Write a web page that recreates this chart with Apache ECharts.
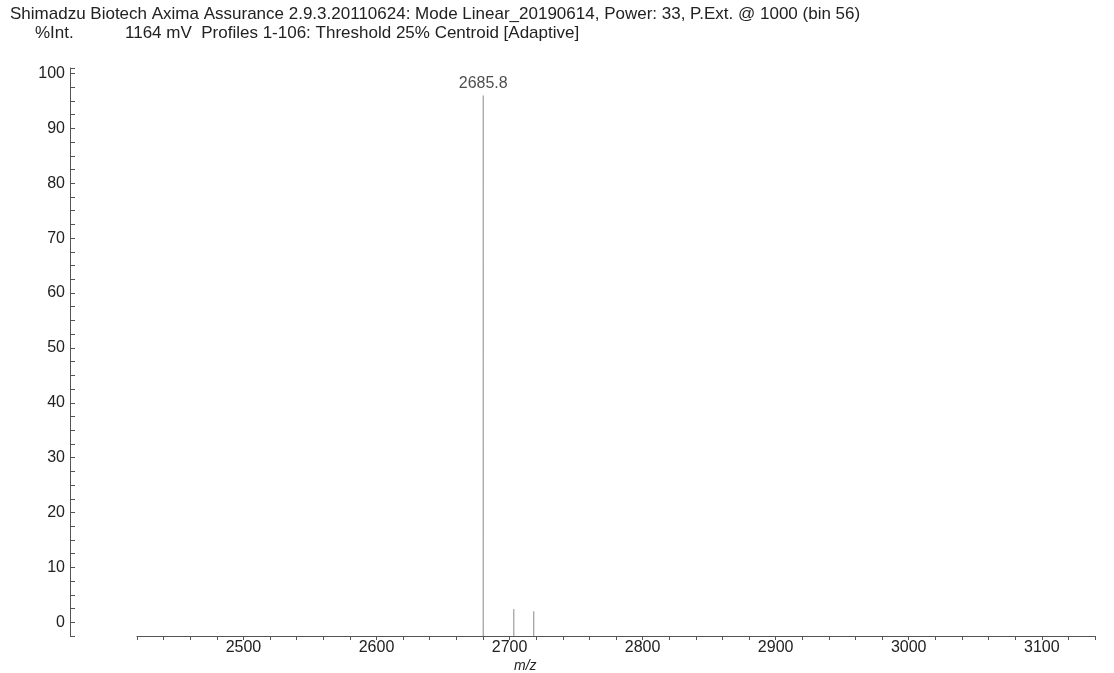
<!DOCTYPE html>
<html>
<head>
<meta charset="utf-8">
<script src="https://cdn.jsdelivr.net/npm/echarts@6/dist/echarts.min.js"></script>
<style>
html,body{margin:0;padding:0;background:#fff;}
#chart{width:1114px;height:673px;}
</style>
</head>
<body>
<div id="chart"></div>
<script>
var peakMz = [2680.2, 2703.2, 2718.2];
var peakInt = [96, 2.4, 2.0];
var peakLabels = ['2685.8', '', ''];
var baseInt = -2.5;

var chart = echarts.init(document.getElementById('chart'));
var font = 'Liberation Sans, Arial, sans-serif';

// 每个峰画成一根竖线
var stems = [];
var tops = [];
for (var i = 0; i < peakMz.length; i++) {
	stems.push([peakMz[i], baseInt]);
	stems.push([peakMz[i], peakInt[i]]);
	stems.push([peakMz[i], null]);
	if (peakLabels[i] != '') tops.push({value: [peakMz[i], peakInt[i]], name: peakLabels[i]});
}

var option = {
	animation: false,
	backgroundColor: '#fff',
	title: [
		{text: 'Shimadzu Biotech Axima Assurance 2.9.3.20110624: Mode Linear_20190614, Power: 33, P.Ext. @ 1000 (bin 56)', left: 5, top: 1,
			textStyle: {fontFamily: font, fontSize: 17, fontWeight: 'normal', color: '#222'}},
		{text: '%Int.', left: 30, top: 20, textStyle: {fontFamily: font, fontSize: 17, fontWeight: 'normal', color: '#222'}},
		{text: '1164 mV  Profiles 1-106: Threshold 25% Centroid [Adaptive]', left: 120, top: 20,
			textStyle: {fontFamily: font, fontSize: 17, fontWeight: 'normal', color: '#222'}},
		{text: 'm/z', left: 514, top: 659, padding: 0,
			textStyle: {fontFamily: font, fontSize: 14, fontStyle: 'italic', fontWeight: 'normal', color: '#222'}}
	],
	grid: {left: 137, right: 19, top: 68, bottom: 37, outerBoundsMode: 'none'},
	xAxis: {
		type: 'value', min: 2420, max: 3140, interval: 20,
		axisLine: {onZero: false, lineStyle: {color: '#555', width: 1}},
		axisTick: {length: 4, lineStyle: {color: '#555'}},
		axisLabel: {fontFamily: font, fontSize: 16, color: '#222', margin: 4,
			formatter: function (v) { return v % 100 == 0 ? v : ''; }},
		splitLine: {show: false}
	},
	yAxis: {
		type: 'value', min: -2.5, max: 101, interval: 2.5, offset: 67,
		axisLine: {show: true, lineStyle: {color: '#555', width: 1}},
		axisTick: {inside: true, length: 5, lineStyle: {color: '#555'}},
		axisLabel: {fontFamily: font, fontSize: 16, color: '#222', margin: 5,
			formatter: function (v) { return v >= 0 && v % 10 == 0 ? v : ''; }},
		splitLine: {show: false}
	},
	series: [{
		type: 'line',
		data: stems,
		connectNulls: false,
		symbol: 'none',
		lineStyle: {color: '#888', width: 1}
	}, {
		type: 'scatter',
		data: tops,
		symbolSize: 0,
		label: {show: true, position: 'top', distance: 4, formatter: '{b}', fontFamily: font, fontSize: 16, color: '#222'}
	}]
};

chart.setOption(option);
</script>
</body>
</html>
